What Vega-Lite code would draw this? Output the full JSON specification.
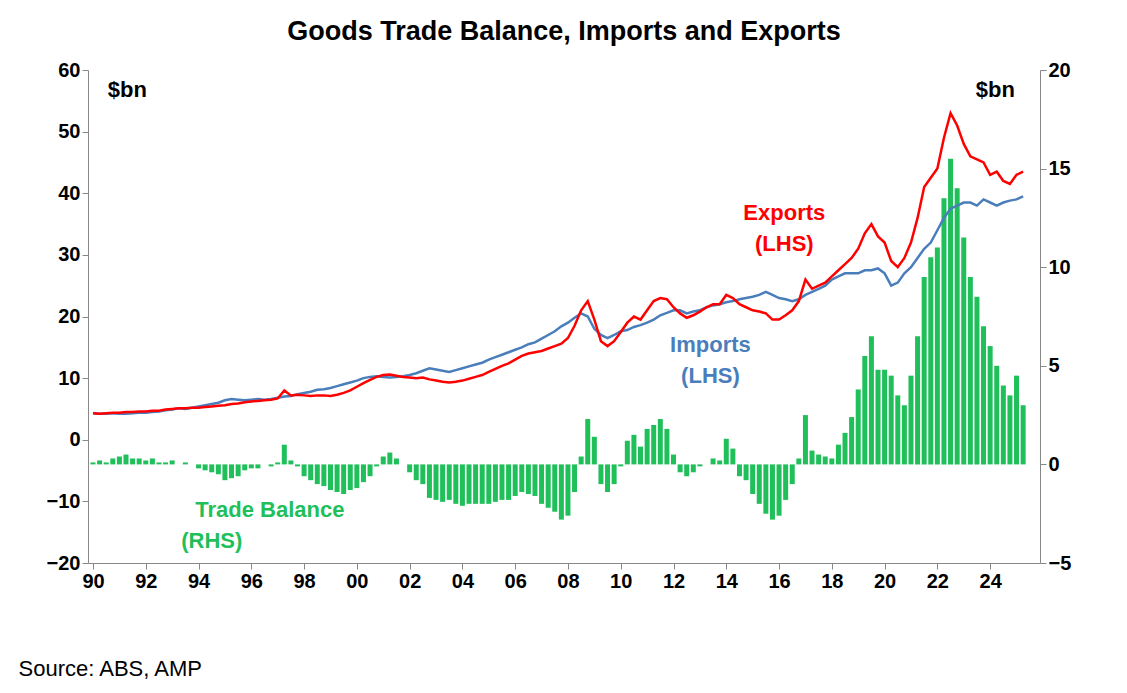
{
  "$schema": "https://vega.github.io/schema/vega-lite/v6.json",
  "autosize": "none",
  "width": 952,
  "height": 493,
  "padding": {"left": 88, "top": 70, "right": 87, "bottom": 130},
  "background": "white",
  "config": {"font": "Liberation Sans", "view": {"stroke": null}},
  "title": {"text": "Goods Trade Balance, Imports and Exports", "fontSize": 27, "fontWeight": "bold", "offset": 14, "color": "#000"},
  "datasets": {
    "series": [
      {"t":1990.0,"e":4.3,"i":4.3,"b":0.1},{"t":1990.25,"e":4.2,"i":4.2,"b":0.2},{"t":1990.5,"e":4.3,"i":4.2,"b":0.1},{"t":1990.75,"e":4.4,"i":4.3,"b":0.3},
      {"t":1991.0,"e":4.4,"i":4.2,"b":0.4},{"t":1991.25,"e":4.5,"i":4.2,"b":0.5},{"t":1991.5,"e":4.5,"i":4.3,"b":0.3},{"t":1991.75,"e":4.6,"i":4.4,"b":0.3},
      {"t":1992.0,"e":4.6,"i":4.4,"b":0.2},{"t":1992.25,"e":4.7,"i":4.5,"b":0.3},{"t":1992.5,"e":4.7,"i":4.6,"b":0.1},{"t":1992.75,"e":4.9,"i":4.8,"b":0.1},
      {"t":1993.0,"e":5.0,"i":4.9,"b":0.2},{"t":1993.25,"e":5.1,"i":5.1,"b":0.0},{"t":1993.5,"e":5.1,"i":5.0,"b":0.1},{"t":1993.75,"e":5.2,"i":5.2,"b":0.0},
      {"t":1994.0,"e":5.2,"i":5.4,"b":-0.2},{"t":1994.25,"e":5.3,"i":5.6,"b":-0.3},{"t":1994.5,"e":5.4,"i":5.8,"b":-0.4},{"t":1994.75,"e":5.5,"i":6.0,"b":-0.5},
      {"t":1995.0,"e":5.6,"i":6.4,"b":-0.8},{"t":1995.25,"e":5.8,"i":6.6,"b":-0.7},{"t":1995.5,"e":5.9,"i":6.5,"b":-0.6},{"t":1995.75,"e":6.1,"i":6.4,"b":-0.3},
      {"t":1996.0,"e":6.2,"i":6.5,"b":-0.2},{"t":1996.25,"e":6.3,"i":6.6,"b":-0.2},{"t":1996.5,"e":6.4,"i":6.5,"b":0.0},{"t":1996.75,"e":6.5,"i":6.6,"b":-0.1},
      {"t":1997.0,"e":6.7,"i":6.8,"b":0.1},{"t":1997.25,"e":8.0,"i":7.0,"b":1.0},{"t":1997.5,"e":7.2,"i":7.1,"b":0.2},{"t":1997.75,"e":7.3,"i":7.4,"b":-0.1},
      {"t":1998.0,"e":7.2,"i":7.6,"b":-0.6},{"t":1998.25,"e":7.1,"i":7.8,"b":-0.8},{"t":1998.5,"e":7.2,"i":8.1,"b":-1.0},{"t":1998.75,"e":7.2,"i":8.2,"b":-1.1},
      {"t":1999.0,"e":7.1,"i":8.4,"b":-1.3},{"t":1999.25,"e":7.3,"i":8.7,"b":-1.4},{"t":1999.5,"e":7.6,"i":9.0,"b":-1.5},{"t":1999.75,"e":8.0,"i":9.3,"b":-1.3},
      {"t":2000.0,"e":8.6,"i":9.6,"b":-1.2},{"t":2000.25,"e":9.2,"i":10.0,"b":-0.9},{"t":2000.5,"e":9.7,"i":10.2,"b":-0.6},{"t":2000.75,"e":10.2,"i":10.3,"b":-0.1},
      {"t":2001.0,"e":10.5,"i":10.2,"b":0.4},{"t":2001.25,"e":10.6,"i":10.1,"b":0.6},{"t":2001.5,"e":10.4,"i":10.2,"b":0.3},{"t":2001.75,"e":10.2,"i":10.3,"b":0.0},
      {"t":2002.0,"e":10.1,"i":10.5,"b":-0.4},{"t":2002.25,"e":10.0,"i":10.8,"b":-0.8},{"t":2002.5,"e":10.1,"i":11.2,"b":-1.0},{"t":2002.75,"e":9.8,"i":11.6,"b":-1.7},
      {"t":2003.0,"e":9.6,"i":11.4,"b":-1.8},{"t":2003.25,"e":9.4,"i":11.2,"b":-1.9},{"t":2003.5,"e":9.3,"i":11.0,"b":-1.8},{"t":2003.75,"e":9.4,"i":11.3,"b":-2.0},
      {"t":2004.0,"e":9.6,"i":11.6,"b":-2.1},{"t":2004.25,"e":9.9,"i":11.9,"b":-2.0},{"t":2004.5,"e":10.2,"i":12.2,"b":-2.0},{"t":2004.75,"e":10.5,"i":12.5,"b":-2.0},
      {"t":2005.0,"e":11.0,"i":13.0,"b":-2.0},{"t":2005.25,"e":11.5,"i":13.4,"b":-1.9},{"t":2005.5,"e":12.0,"i":13.8,"b":-1.8},{"t":2005.75,"e":12.4,"i":14.2,"b":-1.8},
      {"t":2006.0,"e":13.0,"i":14.6,"b":-1.6},{"t":2006.25,"e":13.6,"i":15.0,"b":-1.4},{"t":2006.5,"e":14.0,"i":15.5,"b":-1.5},{"t":2006.75,"e":14.2,"i":15.8,"b":-1.6},
      {"t":2007.0,"e":14.4,"i":16.4,"b":-2.0},{"t":2007.25,"e":14.8,"i":17.0,"b":-2.2},{"t":2007.5,"e":15.2,"i":17.6,"b":-2.4},{"t":2007.75,"e":15.6,"i":18.4,"b":-2.8},
      {"t":2008.0,"e":16.5,"i":19.0,"b":-2.6},{"t":2008.25,"e":18.5,"i":19.8,"b":-1.4},{"t":2008.5,"e":21.0,"i":20.5,"b":0.4},{"t":2008.75,"e":22.5,"i":20.0,"b":2.3},
      {"t":2009.0,"e":19.5,"i":18.0,"b":1.4},{"t":2009.25,"e":16.0,"i":17.0,"b":-1.0},{"t":2009.5,"e":15.2,"i":16.5,"b":-1.4},{"t":2009.75,"e":16.0,"i":17.0,"b":-1.0},
      {"t":2010.0,"e":17.5,"i":17.6,"b":-0.1},{"t":2010.25,"e":19.0,"i":17.8,"b":1.2},{"t":2010.5,"e":20.0,"i":18.3,"b":1.5},{"t":2010.75,"e":19.5,"i":18.6,"b":0.9},
      {"t":2011.0,"e":21.0,"i":19.0,"b":1.8},{"t":2011.25,"e":22.5,"i":19.5,"b":2.0},{"t":2011.5,"e":23.0,"i":20.2,"b":2.3},{"t":2011.75,"e":22.8,"i":20.6,"b":1.8},
      {"t":2012.0,"e":21.5,"i":21.0,"b":0.5},{"t":2012.25,"e":20.5,"i":21.0,"b":-0.4},{"t":2012.5,"e":19.8,"i":20.5,"b":-0.6},{"t":2012.75,"e":20.2,"i":20.8,"b":-0.4},
      {"t":2013.0,"e":20.8,"i":21.0,"b":-0.1},{"t":2013.25,"e":21.5,"i":21.5,"b":0.0},{"t":2013.5,"e":22.0,"i":21.8,"b":0.3},{"t":2013.75,"e":22.0,"i":22.0,"b":0.2},
      {"t":2014.0,"e":23.5,"i":22.3,"b":1.3},{"t":2014.25,"e":23.0,"i":22.5,"b":0.8},{"t":2014.5,"e":22.0,"i":22.8,"b":-0.6},{"t":2014.75,"e":21.5,"i":23.0,"b":-0.8},
      {"t":2015.0,"e":21.0,"i":23.2,"b":-1.5},{"t":2015.25,"e":20.8,"i":23.5,"b":-2.0},{"t":2015.5,"e":20.5,"i":24.0,"b":-2.5},{"t":2015.75,"e":19.5,"i":23.5,"b":-2.8},
      {"t":2016.0,"e":19.5,"i":23.0,"b":-2.6},{"t":2016.25,"e":20.2,"i":22.8,"b":-1.8},{"t":2016.5,"e":21.0,"i":22.5,"b":-1.0},{"t":2016.75,"e":22.5,"i":22.8,"b":0.3},
      {"t":2017.0,"e":26.0,"i":23.5,"b":2.5},{"t":2017.25,"e":24.5,"i":24.0,"b":0.7},{"t":2017.5,"e":25.0,"i":24.5,"b":0.5},{"t":2017.75,"e":25.5,"i":25.0,"b":0.4},
      {"t":2018.0,"e":26.5,"i":26.0,"b":0.3},{"t":2018.25,"e":27.5,"i":26.5,"b":1.0},{"t":2018.5,"e":28.5,"i":27.0,"b":1.6},{"t":2018.75,"e":29.5,"i":27.0,"b":2.4},
      {"t":2019.0,"e":31.0,"i":27.0,"b":3.8},{"t":2019.25,"e":33.5,"i":27.5,"b":5.5},{"t":2019.5,"e":35.0,"i":27.5,"b":6.5},{"t":2019.75,"e":33.0,"i":27.8,"b":4.8},
      {"t":2020.0,"e":32.0,"i":27.0,"b":4.8},{"t":2020.25,"e":29.0,"i":25.0,"b":4.5},{"t":2020.5,"e":28.0,"i":25.5,"b":3.5},{"t":2020.75,"e":29.5,"i":27.0,"b":3.0},
      {"t":2021.0,"e":32.0,"i":28.0,"b":4.5},{"t":2021.25,"e":36.0,"i":29.5,"b":6.5},{"t":2021.5,"e":41.0,"i":31.0,"b":9.5},{"t":2021.75,"e":42.5,"i":32.0,"b":10.5},
      {"t":2022.0,"e":44.0,"i":34.0,"b":11.0},{"t":2022.25,"e":49.0,"i":36.0,"b":13.5},{"t":2022.5,"e":53.0,"i":37.5,"b":15.5},{"t":2022.75,"e":51.0,"i":38.0,"b":14.0},
      {"t":2023.0,"e":48.0,"i":38.5,"b":11.5},{"t":2023.25,"e":46.0,"i":38.5,"b":9.5},{"t":2023.5,"e":45.5,"i":38.0,"b":8.5},{"t":2023.75,"e":45.0,"i":39.0,"b":7.0},
      {"t":2024.0,"e":43.0,"i":38.5,"b":6.0},{"t":2024.25,"e":43.5,"i":38.0,"b":5.0},{"t":2024.5,"e":42.0,"i":38.5,"b":4.0},{"t":2024.75,"e":41.5,"i":38.8,"b":3.5},
      {"t":2025.0,"e":43.0,"i":39.0,"b":4.5},{"t":2025.25,"e":43.5,"i":39.5,"b":3.0}
    ],
    "labels": [
      {"t":2016.2,"v":36.8,"s":"Exports","c":"#ff0000"},
      {"t":2016.2,"v":31.8,"s":"(LHS)","c":"#ff0000"},
      {"t":2013.4,"v":15.4,"s":"Imports","c":"#4a7ebb"},
      {"t":2013.4,"v":10.4,"s":"(LHS)","c":"#4a7ebb"},
      {"t":1996.7,"v":-11.4,"s":"Trade Balance","c":"#1fbf5a"},
      {"t":1994.5,"v":-16.4,"s":"(RHS)","c":"#1fbf5a"},
      {"t":1991.3,"v":56.7,"s":"$bn","c":"#000000"},
      {"t":2024.2,"v":56.7,"s":"$bn","c":"#000000"}
    ]
  },
  "layer": [
    {
      "data": {"name": "series"},
      "mark": {"type": "bar", "color": "#1fbf5a", "width": 5},
      "encoding": {
        "x": {"field": "t", "type": "quantitative", "scale": {"domain": [1990, 2025.7], "nice": false, "zero": false},
          "axis": {"orient": "bottom", "values": [1990,1992,1994,1996,1998,2000,2002,2004,2006,2008,2010,2012,2014,2016,2018,2020,2022,2024],
            "labelExpr": "slice('0' + (datum.value % 100), -2)", "grid": false, "labelFontSize": 20, "labelFontWeight": "bold", "labelColor": "#000",
            "domainColor": "#888", "tickColor": "#888", "tickSize": 6,
            "title": "Source: ABS, AMP", "titleAnchor": "start", "titleAlign": "left", "titleX": -70, "titleY": 95, "titleFontSize": 22, "titleFontWeight": "normal", "titleColor": "#000"}},
        "y": {"field": "b", "type": "quantitative", "scale": {"domain": [-5, 20], "nice": false},
          "axis": {"orient": "right", "values": [-5,0,5,10,15,20], "grid": false, "title": null, "labelFontSize": 20, "labelFontWeight": "bold", "labelColor": "#000", "domainColor": "#888", "tickColor": "#888", "tickSize": 6}}
      }
    },
    {
      "layer": [
        {
          "data": {"name": "series"},
          "mark": {"type": "line", "color": "#4a7ebb", "strokeWidth": 2.5},
          "encoding": {
            "x": {"field": "t", "type": "quantitative"},
            "y": {"field": "i", "type": "quantitative", "scale": {"domain": [-20, 60], "nice": false},
              "axis": {"orient": "left", "values": [-20,-10,0,10,20,30,40,50,60], "grid": false, "title": null, "labelFontSize": 20, "labelFontWeight": "bold", "labelColor": "#000", "domainColor": "#888", "tickColor": "#888", "tickSize": 6}}
          }
        },
        {
          "data": {"name": "series"},
          "mark": {"type": "line", "color": "#ff0000", "strokeWidth": 2.5},
          "encoding": {
            "x": {"field": "t", "type": "quantitative"},
            "y": {"field": "e", "type": "quantitative"}
          }
        },
        {
          "data": {"name": "labels"},
          "mark": {"type": "text", "fontSize": 22, "fontWeight": "bold"},
          "encoding": {
            "x": {"field": "t", "type": "quantitative"},
            "y": {"field": "v", "type": "quantitative"},
            "text": {"field": "s"},
            "color": {"field": "c", "type": "nominal", "scale": null}
          }
        }
      ]
    }
  ],
  "resolve": {"scale": {"y": "independent"}}
}
